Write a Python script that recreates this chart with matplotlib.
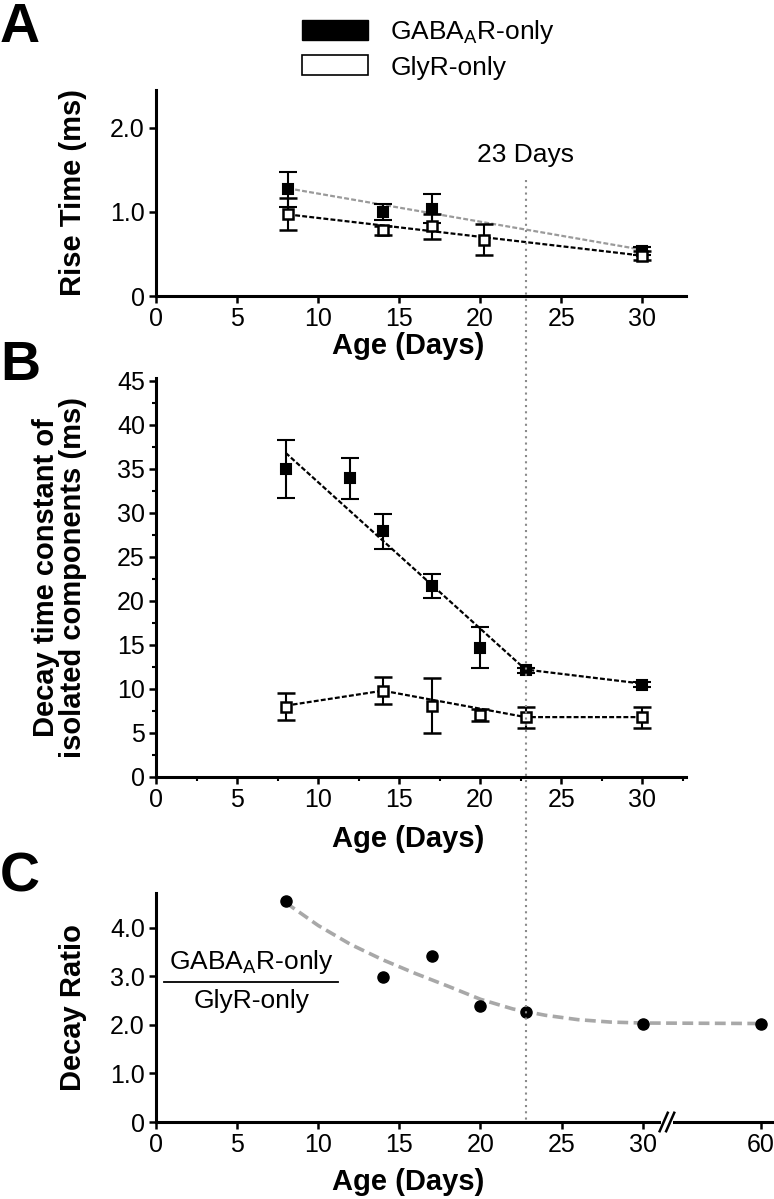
import numpy as np
import matplotlib
matplotlib.use("Agg")
import matplotlib.pyplot as plt
import matplotlib.ticker as ticker
from matplotlib.patches import Patch
from matplotlib.lines import Line2D
from matplotlib.transforms import blended_transform_factory

plt.rcParams['font.family'] = ['Liberation Sans', 'DejaVu Sans']
plt.rcParams['mathtext.default'] = 'regular'

# ---- data: panel A (rise time, ms) ----
a_gaba_x = [8.15, 14.0, 17.0, 30.0]
a_gaba_y = [1.27, 1.00, 1.04, 0.535]
a_gaba_err = [0.21, 0.10, 0.17, 0.05]
a_gaba_fit_x = [8.15, 30.0]
a_gaba_fit_y = [1.28, 0.55]

a_gly_x = [8.15, 14.0, 17.0, 20.25, 30.0]
a_gly_y = [0.97, 0.78, 0.83, 0.67, 0.48]
a_gly_err = [0.19, 0.05, 0.15, 0.185, 0.05]
a_gly_fit_x = [8.15, 30.0]
a_gly_fit_y = [0.97, 0.48]

# ---- data: panel B (decay time constant, ms) ----
b_gaba_x = [8, 12, 14, 17, 20, 22.8, 30]
b_gaba_y = [35.0, 33.9, 27.9, 21.7, 14.7, 12.1, 10.5]
b_gaba_err = [3.3, 2.3, 2.0, 1.4, 2.3, 0.3, 0.3]
b_gaba_fit_x = [8, 22.8, 30]
b_gaba_fit_y = [36.8, 12.2, 10.6]

b_gly_x = [8, 14, 17, 20, 22.8, 30]
b_gly_y = [8.0, 9.8, 8.1, 7.07, 6.8, 6.8]
b_gly_err = [1.5, 1.5, 3.1, 0.7, 1.2, 1.2]
b_gly_fit_x = [8, 14, 22.8, 30]
b_gly_fit_y = [8.1, 9.8, 6.8, 6.8]

# ---- data: panel C (decay ratio) ----
c_x = [8, 14, 17, 20, 22.8, 30, 60]
c_y = [4.55, 2.98, 3.43, 2.39, 2.26, 2.03, 2.03]
c_fit_x = [8, 10, 12, 14, 16, 18, 20, 22, 24, 26, 28, 30, 60]
c_fit_y = [4.52, 4.05, 3.66, 3.34, 3.06, 2.80, 2.53, 2.33, 2.20, 2.11, 2.06, 2.04, 2.03]
c_tick_vals = [0, 5, 10, 15, 20, 25, 30, 60]

line_day = 22.8
pos_60 = 37.3       # where day 60 sits on the broken axis
break_pos = 31.5


def c_pos(x):
    x = np.asarray(x, dtype=float)
    return np.where(x > 30, pos_60, x)


W, H = 774, 1199
fig = plt.figure(figsize=(W / 100, H / 100), dpi=100)


def px_axes(left, top, right, bottom):
    return fig.add_axes([left / W, 1 - bottom / H, (right - left) / W, (bottom - top) / H])


axA = px_axes(156, 90, 686, 296)
axB = px_axes(156, 378, 686, 777)
axC = px_axes(156, 893, 774, 1122)

tick_fs = 18
lab_fs = 21

for ax in (axA, axB, axC):
    ax.spines['top'].set_visible(False)
    ax.spines['right'].set_visible(False)
    ax.spines['left'].set_linewidth(2.2)
    ax.spines['bottom'].set_linewidth(2.2)
    ax.tick_params(which='major', direction='out', length=5, width=1.8, labelsize=tick_fs, pad=3)
    ax.tick_params(which='minor', direction='out', length=3, width=1.5)

dash = (0, (2.2, 1.0))
open_kw = dict(fmt='s', ms=7, mfc='white', mec='black', mew=1.8, ecolor='black',
               elinewidth=1.5, capsize=6.5, capthick=1.5, zorder=4)
fill_kw = dict(fmt='s', ms=7, mfc='black', mec='black', mew=1.5, ecolor='black',
               elinewidth=1.5, capsize=6.5, capthick=1.5, zorder=4)

# ---- panel A ----
axA.plot(a_gaba_fit_x, a_gaba_fit_y, color='#9a9a9a', lw=1.6, linestyle=dash, zorder=3)
axA.plot(a_gly_fit_x, a_gly_fit_y, color='black', lw=1.6, linestyle=dash, zorder=3)
axA.errorbar(a_gaba_x, a_gaba_y, yerr=a_gaba_err, **fill_kw)
axA.errorbar(a_gly_x, a_gly_y, yerr=a_gly_err, **open_kw)
axA.set_xlim(0, 32.7)
axA.set_ylim(0, 2.45)
axA.xaxis.set_major_locator(ticker.MultipleLocator(5))
axA.set_yticks([0, 1.0, 2.0])
axA.set_yticklabels(['0', '1.0', '2.0'])
axA.text(line_day, 0.684, '23 Days', transform=blended_transform_factory(axA.transData, axA.transAxes),
         ha='center', va='center', fontsize=19)
axA.set_xlabel('Age (Days)', fontsize=lab_fs, fontweight='bold')
axA.xaxis.set_label_coords(0.475, -0.175)
axA.set_ylabel('Rise Time (ms)', fontsize=lab_fs, fontweight='bold')
axA.yaxis.set_label_coords(-0.13, 0.5)

# ---- panel B ----
axB.plot(b_gaba_fit_x, b_gaba_fit_y, color='black', lw=1.6, linestyle=dash, zorder=3)
axB.plot(b_gly_fit_x, b_gly_fit_y, color='black', lw=1.6, linestyle=dash, zorder=3)
axB.errorbar(b_gaba_x, b_gaba_y, yerr=b_gaba_err, **fill_kw)
axB.errorbar(b_gly_x, b_gly_y, yerr=b_gly_err, **open_kw)
axB.set_xlim(0, 32.7)
axB.set_ylim(0, 45.3)
axB.xaxis.set_major_locator(ticker.MultipleLocator(5))
axB.xaxis.set_minor_locator(ticker.MultipleLocator(2.5))
axB.yaxis.set_major_locator(ticker.MultipleLocator(5))
axB.yaxis.set_minor_locator(ticker.MultipleLocator(2.5))
axB.set_xlabel('Age (Days)', fontsize=lab_fs, fontweight='bold')
axB.xaxis.set_label_coords(0.475, -0.12)
axB.set_ylabel('Decay time constant of\nisolated components (ms)', fontsize=lab_fs,
               fontweight='bold', linespacing=0.95)
axB.yaxis.set_label_coords(-0.13, 0.5)

# ---- panel C ----
axC.plot(c_pos(c_fit_x), c_fit_y, color='#a8a8a8', lw=2.6, linestyle=(0, (3, 1.5)), zorder=3)
axC.plot(c_pos(c_x), c_y, 'o', ms=8, color='black', zorder=4)
axC.set_xlim(0, 38.1)
axC.set_ylim(0, 4.72)
axC.set_xticks(c_pos(c_tick_vals))
axC.set_xticklabels([str(v) for v in c_tick_vals])
axC.set_yticks([0, 1, 2, 3, 4])
axC.set_yticklabels(['0', '1.0', '2.0', '3.0', '4.0'])
# axis break marks
axC.plot([break_pos - 0.35, break_pos + 0.35], [0, 0], color='white', lw=4,
         clip_on=False, zorder=5, solid_capstyle='butt')
for dx in (-0.2, 0.2):
    axC.plot([break_pos + dx - 0.25, break_pos + dx + 0.25], [-0.19, 0.19], color='black',
             lw=1.8, clip_on=False, zorder=6)
# ratio annotation
axC.text(0.155, 0.70, 'GABA$_A$R-only', transform=axC.transAxes, ha='center', va='center', fontsize=19)
axC.plot([0.013, 0.295], [0.61, 0.61], color='black', lw=1.3, transform=axC.transAxes)
axC.text(0.155, 0.53, 'GlyR-only', transform=axC.transAxes, ha='center', va='center', fontsize=19)
axC.set_xlabel('Age (Days)', fontsize=lab_fs, fontweight='bold')
axC.xaxis.set_label_coords(0.408, -0.2)
axC.set_ylabel('Decay Ratio', fontsize=lab_fs, fontweight='bold')
axC.yaxis.set_label_coords(-0.112, 0.5)

# vertical 23-day marker across all panels
vline = Line2D([line_day, line_day], [1 - 180 / H, 1 - 1122 / H], color='#8a8a8a', lw=1.5,
               linestyle=(0, (1, 2)), transform=blended_transform_factory(axA.transData, fig.transFigure))
fig.add_artist(vline)

# panel letters
for letter, ypx in (('A', 2), ('B', 340), ('C', 852)):
    fig.text(0.0, 1 - ypx / H, letter, fontsize=40, fontweight='bold', ha='left', va='top')

# legend
handles = [Patch(facecolor='black', edgecolor='black'),
           Patch(facecolor='white', edgecolor='black', linewidth=1.2)]
fig.legend(handles, ['GABA$_A$R-only', 'GlyR-only'], loc='upper left',
           bbox_to_anchor=(302 / W, 1 - 18 / H), frameon=False, fontsize=19,
           handlelength=2.5, handleheight=0.8, handletextpad=0.85, labelspacing=0.35,
           borderpad=0, borderaxespad=0)

fig.savefig('out.png', dpi=100)
